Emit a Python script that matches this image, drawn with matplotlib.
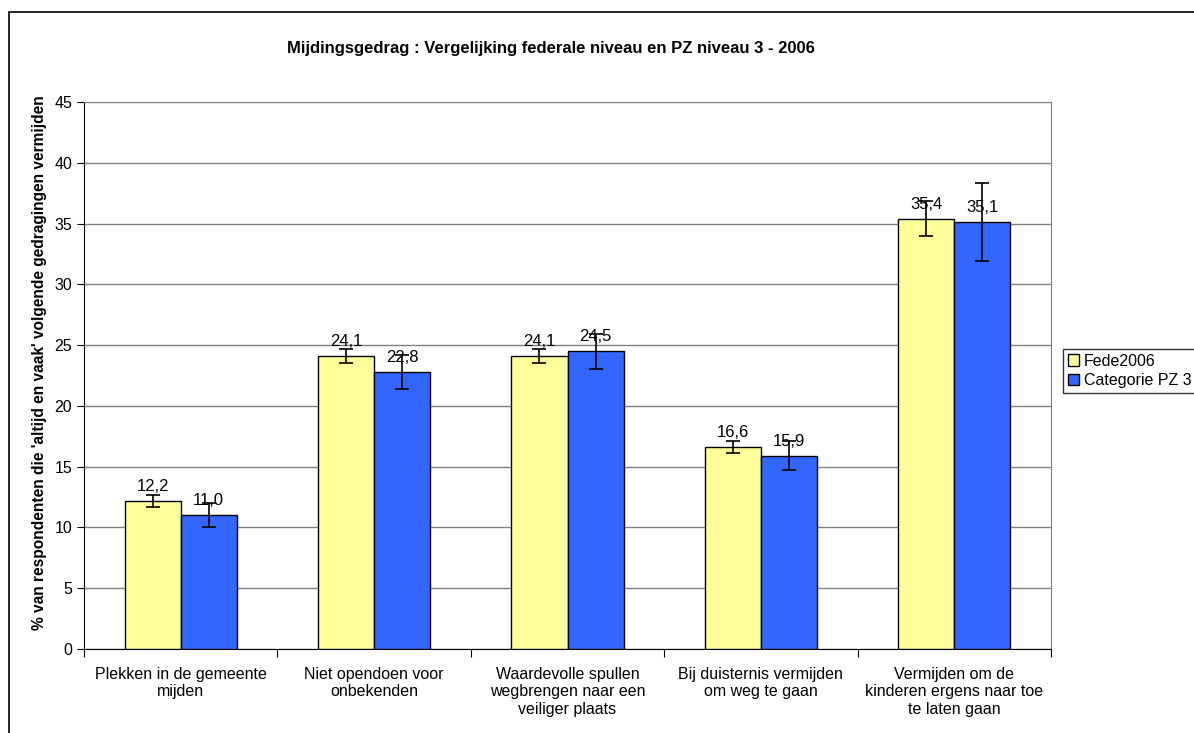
import numpy as np
import matplotlib.pyplot as plt
from matplotlib.patches import Rectangle

# Data
categorieen = ["Plekken in de gemeente\nmijden",
               "Niet opendoen voor\nonbekenden",
               "Waardevolle spullen\nwegbrengen naar een\nveiliger plaats",
               "Bij duisternis vermijden\nom weg te gaan",
               "Vermijden om de\nkinderen ergens naar toe\nte laten gaan"]
fede2006 = [12.2, 24.1, 24.1, 16.6, 35.4]
pz3 = [11.0, 22.8, 24.5, 15.9, 35.1]
fout_fede = [0.5, 0.6, 0.6, 0.5, 1.45]
fout_pz3 = [1.0, 1.4, 1.45, 1.2, 3.2]
reeksen = ["Fede2006", "Categorie PZ 3"]

plt.rcParams['font.family'] = ['Liberation Sans', 'DejaVu Sans']

fig = plt.figure(figsize=(11.94, 7.33), dpi=100)
ax = fig.add_axes([84 / 1194, (733 - 649) / 733, (1051 - 84) / 1194, (649 - 102) / 733])

# outer chart frame
fig.patches.append(Rectangle((9 / 1194, -0.01), 1.2, 1 - 12 / 733 + 0.01,
                             transform=fig.transFigure, fill=False,
                             edgecolor='black', linewidth=1.2))

x = np.arange(len(categorieen))
w = 0.29
b1 = ax.bar(x - w / 2, fede2006, w, color='#FFFF99', edgecolor='black', linewidth=1, label=reeksen[0], zorder=3)
b2 = ax.bar(x + w / 2, pz3, w, color='#3366FF', edgecolor='black', linewidth=1, label=reeksen[1], zorder=3)
ax.errorbar(x - w / 2, fede2006, yerr=fout_fede, fmt='none', ecolor='black', capsize=5, elinewidth=1.2, capthick=1.2, zorder=4)
ax.errorbar(x + w / 2, pz3, yerr=fout_pz3, fmt='none', ecolor='black', capsize=5, elinewidth=1.2, capthick=1.2, zorder=4)

for barras in (b1, b2):
    for barra in barras:
        h = barra.get_height()
        ax.annotate(f"{h:.1f}".replace('.', ','), (barra.get_x() + barra.get_width() / 2, h),
                    xytext=(0, 5), textcoords='offset points', ha='center', va='bottom',
                    fontsize=12, zorder=5)

ax.set_xlim(-0.5, len(categorieen) - 0.5)
ax.set_ylim(0, 45)
ax.set_yticks(range(0, 46, 5))
ax.yaxis.grid(True, color='#808080', linewidth=1, zorder=0)
ax.set_xticks(np.arange(-0.5, len(categorieen), 1))
ax.set_xticklabels([])
ax.set_xticks(x, minor=True)
ax.set_xticklabels(categorieen, minor=True, fontsize=11.5)
ax.tick_params(axis='x', which='minor', length=0, pad=13)
ax.tick_params(axis='x', which='major', length=6, direction='out')
ax.tick_params(axis='y', labelsize=11.5, length=5)
for s in ax.spines.values():
    s.set_color('#808080')
ax.spines['bottom'].set_color('black')
ax.spines['left'].set_color('black')

ax.set_ylabel("% van respondenten die 'altijd en vaak' volgende gedragingen vermijden",
              fontsize=11.2, fontweight='bold')
ax.yaxis.set_label_coords(-0.038, 0.523)
fig.text(551 / 1194, 1 - 49 / 733, "Mijdingsgedrag : Vergelijking federale niveau en PZ niveau 3 - 2006",
         fontsize=12, fontweight='bold', ha='center', va='center')

leg = ax.legend(loc='center left', bbox_to_anchor=(1063 / 1194, 362 / 733),
                bbox_transform=fig.transFigure, fontsize=11.5, frameon=True,
                fancybox=False, edgecolor='black', handlelength=0.7, handleheight=0.7,
                handletextpad=0.3, borderpad=0.3, borderaxespad=0, labelspacing=0.3)
leg.get_frame().set_linewidth(1)

fig.savefig("out.png", dpi=100)
